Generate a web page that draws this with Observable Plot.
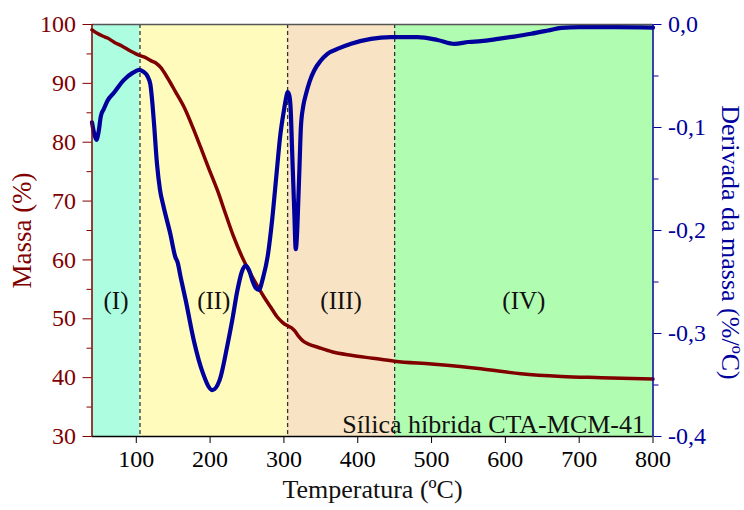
<!DOCTYPE html>
<html>
<head>
<meta charset="utf-8">
<script src="https://cdn.jsdelivr.net/npm/d3@7"></script>
<script src="https://cdn.jsdelivr.net/npm/@observablehq/plot@0.6"></script>
<style>
  html, body { margin: 0; padding: 0; background: #fff; }
</style>
</head>
<body>
<div id="chart"></div>
<script>
// Mass (TG) curve, %
const massTemp = [40, 47, 55, 61, 70, 81, 92, 105, 112, 119, 126, 133, 142, 153, 165, 176, 187, 198, 210, 221, 232, 243, 255, 264, 273, 282, 291, 298, 305, 310, 315, 320, 327, 335, 345, 365, 391, 420, 450, 500, 567, 621, 676, 730, 800];
const massVal  = [99.1, 98.5, 98.0, 97.7, 97.0, 96.3, 95.5, 94.7, 94.4, 93.9, 93.5, 92.7, 91.0, 88.6, 85.9, 82.7, 79.2, 75.6, 71.8, 67.8, 63.9, 60.6, 57.6, 55.6, 53.7, 52.0, 50.3, 49.4, 48.8, 48.5, 47.9, 47.0, 46.1, 45.6, 45.2, 44.4, 43.8, 43.3, 42.8, 42.3, 41.5, 40.65, 40.2, 40.0, 39.75];

// Derivative (DTG) curve, %/ºC
const dtgTemp = [40, 43, 46, 49, 52, 56, 61, 70, 83, 95, 104, 110, 115, 119, 122, 124, 128, 132, 137, 146, 153, 156, 160, 167, 178, 190, 203, 213, 223, 230, 237, 243, 248, 253, 258, 262, 266, 272, 278, 284, 290, 295, 300, 303, 305, 307, 309, 311, 314, 316, 318, 319, 321, 323, 326, 330, 335, 341, 350, 359, 375, 391, 418, 445, 481, 508, 531, 550, 567, 590, 612, 635, 658, 676, 700, 750, 800];
const dtgVal  = [-0.095, -0.106, -0.112, -0.104, -0.089, -0.082, -0.074, -0.066, -0.054, -0.047, -0.044, -0.046, -0.050, -0.058, -0.078, -0.096, -0.135, -0.160, -0.177, -0.203, -0.226, -0.231, -0.245, -0.268, -0.307, -0.338, -0.355, -0.345, -0.313, -0.287, -0.258, -0.240, -0.234, -0.239, -0.250, -0.256, -0.2576, -0.245, -0.225, -0.19, -0.145, -0.108, -0.0835, -0.071, -0.0657, -0.068, -0.080, -0.12, -0.181, -0.218, -0.20, -0.181, -0.14, -0.0997, -0.080, -0.0673, -0.055, -0.0447, -0.035, -0.0285, -0.023, -0.0187, -0.0139, -0.0123, -0.0123, -0.015, -0.0188, -0.017, -0.0162, -0.014, -0.0117, -0.009, -0.0058, -0.0032, -0.0026, -0.0026, -0.003];

// Regions
const regionLabels = ["(I)", "(II)", "(III)", "(IV)"];
const regionStart  = [40, 105, 305, 450];
const regionEnd    = [105, 305, 450, 800];
const regionColors = ["#adfde0", "#fffbbd", "#f8e4c4", "#b0fcb0"];
const boundaries   = [105, 305, 450];

// Axis ticks
const xTicks    = [100, 200, 300, 400, 500, 600, 700, 800];
const massTicks = [30, 40, 50, 60, 70, 80, 90, 100];
const massMinor = [35, 45, 55, 65, 75, 85, 95];
const dtgTicks  = [0, -0.1, -0.2, -0.3, -0.4];
const dtgMinor  = [-0.05, -0.15, -0.25, -0.35];

const sampleLabel = "Sílica híbrida CTA-MCM-41";

const massDomain = [30, 100];
const dtgDomain = [-0.4, 0];
// map DTG value onto the mass scale (secondary axis)
const toMass = d => massDomain[0] + (d - dtgDomain[0]) / (dtgDomain[1] - dtgDomain[0]) * (massDomain[1] - massDomain[0]);
const fromMass = m => dtgDomain[0] + (m - massDomain[0]) / (massDomain[1] - massDomain[0]) * (dtgDomain[1] - dtgDomain[0]);
const fmtComma = v => d3.format(".1f")(v).replace(".", ",").replace("−", "-");

const massData = massTemp.map((t, i) => ({t, m: massVal[i]}));
const dtgData = dtgTemp.map((t, i) => ({t, m: toMass(dtgVal[i])}));
const regions = regionLabels.map((l, i) => ({label: l, x1: regionStart[i], x2: regionEnd[i], fill: regionColors[i], xc: (regionStart[i] + regionEnd[i]) / 2}));

const RED = "#800000";
const BLUE = "#00009c";

const chart = Plot.plot({
  width: 744,
  height: 510,
  marginLeft: 91.5,
  marginRight: 91.5,
  marginTop: 24,
  marginBottom: 74,
  style: {fontFamily: "'Liberation Serif', 'DejaVu Serif', serif", fontSize: "24px", background: "#fff"},
  x: {domain: [40, 800]},
  y: {domain: massDomain},
  marks: [
    Plot.rectX(regions, {x1: "x1", x2: "x2", y1: 30, y2: 100, fill: "fill"}),
    Plot.ruleX(boundaries, {stroke: "#333", strokeWidth: 1.3, strokeDasharray: "4,3"}),
    Plot.text(regions, {x: "xc", y: 53, text: "label", fill: "#111", fontSize: 25}),
    Plot.line(massData, {x: "t", y: "m", stroke: RED, strokeWidth: 3.5, curve: "monotone-x"}),
    Plot.line(dtgData, {x: "t", y: "m", stroke: BLUE, strokeWidth: 4.2, curve: "monotone-x"}),
    Plot.text([sampleLabel], {frameAnchor: "bottom-right", dx: -8, dy: -4, text: d => d, fill: "#111", fontSize: 26, textAnchor: "end", lineAnchor: "bottom"}),
    // frame lines
    Plot.ruleY([100], {stroke: "#555", strokeWidth: 1.5}),
    Plot.ruleY([30], {stroke: "#000", strokeWidth: 1.5}),
    Plot.ruleX([40], {stroke: RED, strokeWidth: 1.5}),
    Plot.ruleX([800], {stroke: BLUE, strokeWidth: 1.5}),
    // x axis
    Plot.axisX({ticks: xTicks, tickSize: 7, tickPadding: 6, label: null, color: "#000", fontSize: 24, tickFormat: d => String(d)}),
    // left axis
    Plot.axisY({ticks: massTicks, tickSize: 9, tickPadding: 7, label: null, color: RED, fill: RED, stroke: RED, fontSize: 24, tickFormat: d => String(d)}),
    Plot.axisY({ticks: massMinor, tickSize: 5, label: null, color: RED, stroke: RED, tickFormat: () => ""}),
    // right axis
    Plot.axisY({anchor: "right", ticks: dtgTicks.map(toMass), tickSize: 8, tickPadding: 7, label: null, color: BLUE, fill: BLUE, stroke: BLUE, fontSize: 24, tickFormat: m => fmtComma(fromMass(m))}),
    Plot.axisY({anchor: "right", ticks: dtgMinor.map(toMass), tickSize: 5, label: null, color: BLUE, stroke: BLUE, tickFormat: () => ""}),
    // axis titles
    Plot.text(["Massa (%)"], {frameAnchor: "left", dx: -70, dy: 0, rotate: -90, textAnchor: "middle", text: d => d, fill: RED, fontSize: 27}),
    Plot.text(["Derivada da massa (%/ºC)"], {frameAnchor: "right", dx: 77, dy: 12, rotate: 90, textAnchor: "middle", text: d => d, fill: BLUE, fontSize: 26}),
    Plot.text(["Temperatura (ºC)"], {frameAnchor: "bottom", dy: 61, text: d => d, fill: "#111", fontSize: 26})
  ]
});
document.getElementById("chart").appendChild(chart);
</script>
</body>
</html>
